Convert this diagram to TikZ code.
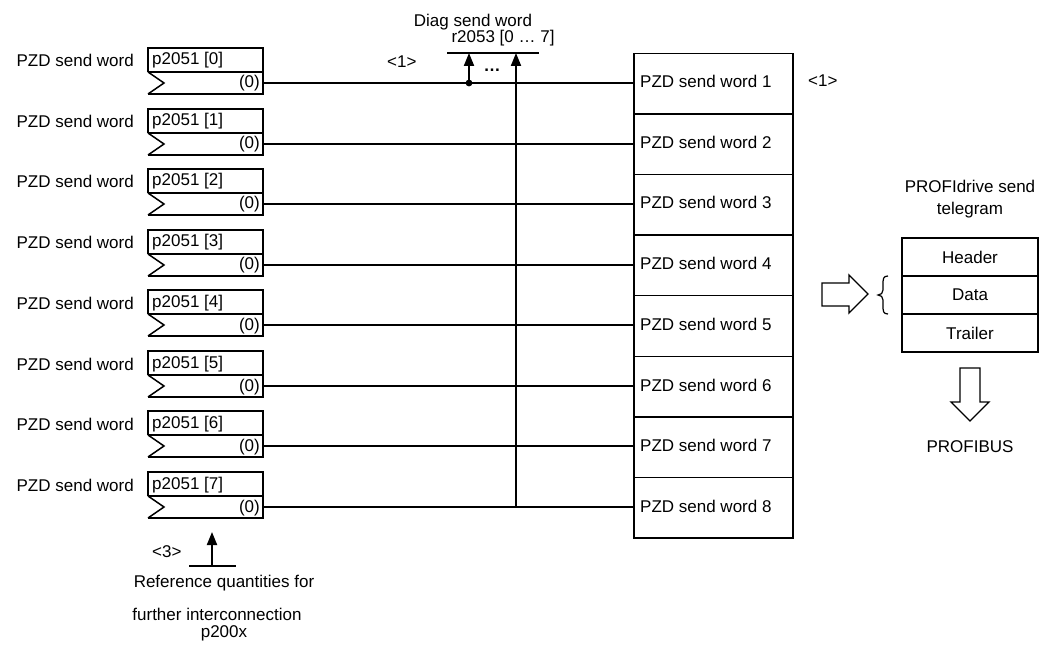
\documentclass[tikz,border=0pt]{standalone}
\usepackage{fontspec}
\setmainfont{Liberation Sans}
\usetikzlibrary{arrows.meta}
\begin{document}
\begin{tikzpicture}[x=1pt,y=-1pt,
  font=\fontsize{17}{20}\selectfont,
  wire/.style={line width=2pt},
  frame/.style={draw,line width=1.5pt},
  lbl/.style={inner sep=0pt},
  tip/.style={-{Triangle[length=13pt,width=10pt]}},
  hollow/.style={draw,line width=1.3pt,fill=white,line join=miter}]
\useasboundingbox (0,0) rectangle (1057,652);
% left parameter boxes and right PZD boxes
\foreach \i [evaluate=\i as \ly using round(83+60.57*\i), evaluate=\i as \k using int(\i+1)] in {0,...,7}{
  \node[lbl,anchor=base east] (lab\i) at (134,\ly-16) {PZD send word};
  \node[minimum width=115pt,minimum height=46pt,inner sep=0pt,anchor=north west] (pb\i) at (148,\ly-35) {};
  \draw[line width=1.5pt,line join=miter] (148,\ly-11) -- (148,\ly-35) -- (263,\ly-35) -- (263,\ly+11) -- (148,\ly+11);
  \draw[line width=1.5pt] (148,\ly-11) -- (263,\ly-11);
  \draw[line width=1.5pt,line join=miter] (148,\ly-11) -- (164,\ly) -- (148,\ly+11);
  \node[lbl,anchor=base west] (pn\i) at (152,\ly-18) {p2051 [\i]};
  \node[lbl,anchor=base east] (pz\i) at (260,\ly+5) {(0)};
  \coordinate (out\i) at (263,\ly);
  \node[frame,minimum width=159pt,minimum height=60.57pt,inner sep=0pt,anchor=north west] (pzd\i) at (633,52.7+60.57*\i) {};
  \node[lbl,anchor=base west] (pzt\i) at (640,\ly+5) {PZD send word \k};
  \draw[wire] (out\i) -- (out\i -| pzd\i.west);
}
% diagnostics
\coordinate (dot) at (469,83);
\coordinate (dtop1) at (469,53);
\coordinate (dtop2) at (516,53);
\coordinate (dbot2) at (516,507);
\coordinate (bl) at (447,53);
\coordinate (br) at (539,53);
\draw[line width=1.5pt] (bl) -- (br);
\draw[wire,tip] (dot) -- (dtop1);
\draw[wire,tip] (dbot2) -- (dtop2);
\fill (dot) circle (3.4pt);
\node[lbl,anchor=base] (dots) at (492,72) {\textbf{\char"2026}};
\node[lbl,anchor=base] (diag1) at (473,27) {Diag send word};
\node[lbl,anchor=base] (diag2) at (503,43) {r2053 [0 \char"2026{} 7]};
\node[lbl,anchor=base west] (n1a) at (387,68) {<1>};
\node[lbl,anchor=base west] (n1b) at (808,87) {<1>};
% telegram
\node[lbl,anchor=base] (tel1) at (970,193) {PROFIdrive send};
\node[lbl,anchor=base] (tel2) at (970,215) {telegram};
\node[frame,minimum width=136pt,minimum height=38pt,inner sep=0pt] (hdr) at (970,257) {Header};
\node[frame,minimum width=136pt,minimum height=38pt,inner sep=0pt] (dat) at (970,295) {Data};
\node[frame,minimum width=136pt,minimum height=38pt,inner sep=0pt] (trl) at (970,333) {Trailer};
\draw[hollow] (822,283) -- (849,283) -- (849,275) -- (868,294) -- (849,313) -- (849,306) -- (822,306) -- cycle;
\draw[line width=1.2pt] (888,276) .. controls (883,276) and (883,279) .. (883,285) -- (883,290)
  .. controls (883,293) and (881,295) .. (878,295)
  .. controls (881,295) and (883,297) .. (883,300) -- (883,305)
  .. controls (883,311) and (883,314) .. (888,314);
\draw[hollow] (960,368) -- (980,368) -- (980,402) -- (989,402) -- (970,421) -- (951,402) -- (960,402) -- cycle;
\node[lbl,anchor=base] (pb) at (970,452) {PROFIBUS};
% reference quantities
\coordinate (rbot) at (212,566);
\coordinate (rtop) at (212,532);
\coordinate (rl) at (189,566);
\coordinate (rr) at (236,566);
\draw[line width=1.5pt] (rl) -- (rr);
\draw[wire,tip] (rbot) -- (rtop);
\node[lbl,anchor=base west] (n3) at (152,557) {<3>};
\node[lbl,anchor=base] (rq1) at (224,587) {Reference quantities for};
\node[lbl,anchor=base] (rq2) at (217,620) {further interconnection};
\node[lbl,anchor=base] (rq3) at (224,637) {p200x};
\end{tikzpicture}
\end{document}
